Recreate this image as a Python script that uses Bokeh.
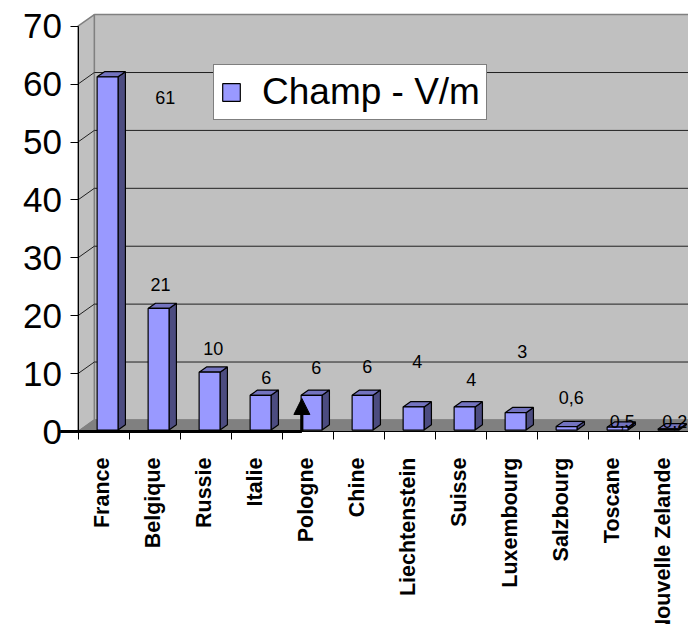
import numpy as np
from bokeh.plotting import figure
from bokeh.models import (Range1d, FixedTicker, Legend, LegendItem, Arrow, NormalHead)
from bokeh.embed import file_html
from bokeh.resources import INLINE
from bokeh.core.properties import value

# ---------------- data ----------------
categories = ["France", "Belgique", "Russie", "Italie", "Pologne", "Chine",
              "Liechtenstein", "Suisse", "Luxembourg", "Salzbourg", "Toscane",
              "Nouvelle Zelande"]
champ = [61, 21, 10, 6, 6, 6, 4, 4, 3, 0.6, 0.5, 0.2]
y_ticks = [0, 10, 20, 30, 40, 50, 60, 70]
series_name = "Champ - V/m"
# where the data labels sit in the source chart (value units / category shift)
label_y = [57.7, 25.4, 14.3, 9.3, 11.1, 11.2, 12.1, 9.0, 13.8, 5.9, 1.7, 1.7]
label_shift = [1.04, -0.05, -0.02, 0.02, 0.0, 0.0, -0.02, 0.04, 0.04, 0.0, 0.0, 0.03]

# ---------------- geometry (styling) ----------------
N = len(categories)
W, H = 688, 624
PXC = 51.0        # px per category
PXV = 5.79        # px per value unit
X0PX, Y0PX = 77.5, 431.0   # pixel position of the origin
x_lo, x_hi = -X0PX / PXC, (W - X0PX) / PXC
y_hi, y_lo = Y0PX / PXV, -(H - Y0PX) / PXV
XR = x_hi + 0.5
WX, WY = 0.32, 2.0        # wall depth (category units, value units)
BX, BY = 0.145, 0.9       # bar depth
B0 = 0.25                 # bar base
FL, FR = 0.375, 0.785     # front face offsets within a category
FNAME = "Liberation Sans"
FONT = value(FNAME)

p = figure(width=W, height=H, x_range=Range1d(x_lo, x_hi), y_range=Range1d(y_lo, y_hi),
           output_backend="svg", toolbar_location=None,
           min_border_left=0, min_border_right=0, min_border_top=0, min_border_bottom=0)
p.outline_line_color = None
p.grid.visible = False
p.background_fill_color = "white"
p.border_fill_color = "white"

ytop = y_ticks[-1]
# back wall
p.quad(left=WX, right=XR, bottom=WY, top=ytop + WY,
       fill_color="#c0c0c0", line_color="#808080", line_width=1.5)
# side wall
p.patch([0, 0, WX, WX], [0, ytop, ytop + WY, WY],
        fill_color="#c0c0c0", line_color="#808080", line_width=1.5)
# floor
p.patch([0, WX, XR, XR], [0, WY, WY, 0],
        fill_color="#808080", line_color="#808080", line_width=1)
# gridlines
gv = y_ticks[1:-1]
p.segment(x0=[WX] * len(gv), y0=[v + WY for v in gv], x1=[XR] * len(gv),
          y1=[v + WY for v in gv], line_color="#202020", line_width=1)
p.segment(x0=[0] * len(gv), y0=gv, x1=[WX] * len(gv), y1=[v + WY for v in gv],
          line_color="#202020", line_width=1)

# bars
idx = np.arange(N)
vals = np.array(champ, dtype=float)
left = idx + FL
right = idx + FR
top = vals + B0
side_xs = [[r, r + BX, r + BX, r] for r in right]
side_ys = [[B0, B0 + BY, t + BY, t] for t in top]
top_xs = [[l, r, r + BX, l + BX] for l, r in zip(left, right)]
top_ys = [[t, t, t + BY, t + BY] for t in top]
p.patches(side_xs, side_ys, fill_color="#4c4c80", line_color="black", line_width=1.2)
p.patches(top_xs, top_ys, fill_color="#7373bf", line_color="black", line_width=1.2)
front = p.quad(left=left, right=right, bottom=B0, top=top,
               fill_color="#9999ff", line_color="black", line_width=1.2)

# data labels
lab_txt = [f"{v:g}".replace(".", ",") for v in champ]
p.text(x=list(idx + 0.67 + np.array(label_shift)), y=label_y, text=lab_txt,
       text_font=FONT, text_font_size="18px", text_align="center",
       text_baseline="middle", text_color="black")

# value axis (drawn at the category origin)
ya = p.yaxis[0]
ya.fixed_location = 0
ya.ticker = FixedTicker(ticks=y_ticks, minor_ticks=[])
ya.bounds = (0, ytop)
ya.major_tick_out = 8
ya.major_tick_in = 0
ya.minor_tick_out = 0
ya.minor_tick_in = 0
ya.axis_line_color = "black"
ya.major_tick_line_color = "black"
ya.major_label_text_font = FNAME
ya.major_label_text_font_size = "35px"
ya.major_label_text_color = "black"
ya.major_label_standoff = 8

# category axis (drawn at value 0)
centers = [float(i) + 0.47 for i in idx]
xa = p.xaxis[0]
xa.fixed_location = 0
xa.bounds = (0, float(N))
xa.ticker = FixedTicker(ticks=centers, minor_ticks=list(range(N + 1)))
xa.major_label_overrides = {c: name for c, name in zip(centers, categories)}
xa.major_label_orientation = np.pi / 2
xa.major_tick_out = 0
xa.major_tick_in = 0
xa.minor_tick_out = 8
xa.minor_tick_in = 0
xa.minor_tick_line_color = "black"
xa.axis_line_color = "black"
xa.major_label_text_font = FNAME
xa.major_label_text_font_style = "bold"
xa.major_label_text_font_size = "21.5px"
xa.major_label_text_color = "black"
xa.major_label_standoff = 18

# annotation arrow
p.add_layout(Arrow(end=None, x_start=-0.35, y_start=0, x_end=4.39, y_end=0,
                   line_width=3, line_color="black"))
p.add_layout(Arrow(end=NormalHead(size=16, fill_color="black", line_color="black"),
                   x_start=4.39, y_start=0, x_end=4.39, y_end=5.7,
                   line_width=3, line_color="black"))

legend = Legend(items=[LegendItem(label=series_name, renderers=[front])],
                location=(213, H - 120), padding=6, margin=0, spacing=0,
                glyph_width=22, glyph_height=22, label_standoff=20,
                label_text_font=FNAME, label_text_font_size="37px",
                label_text_color="black",
                border_line_color="black", border_line_width=1,
                background_fill_color="white", background_fill_alpha=1)
p.add_layout(legend)

open("out.html", "w").write(file_html(p, INLINE))
